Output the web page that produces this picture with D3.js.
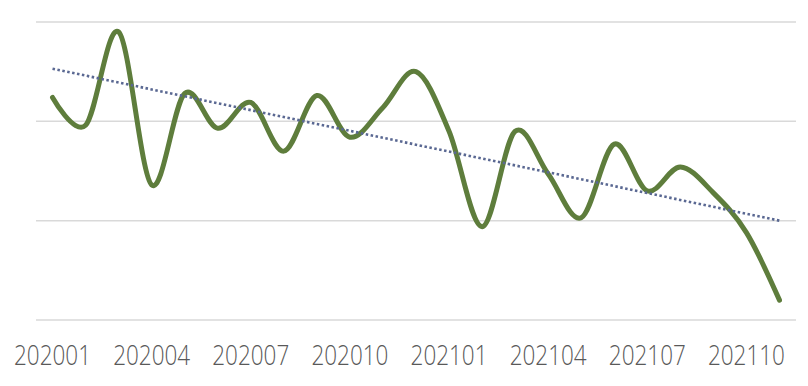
<!DOCTYPE html>
<html>
<head>
<meta charset="utf-8">
<script src="https://cdn.jsdelivr.net/npm/d3@7"></script>
<style>
  html, body { margin: 0; padding: 0; background: #fff; }
  svg { display: block; }
</style>
</head>
<body>
<svg id="canvas" width="808" height="386"></svg>
<script>
// data
const months = ['202001','202002','202003','202004','202005','202006','202007','202008',
  '202009','202010','202011','202012','202101','202102','202103','202104','202105',
  '202106','202107','202108','202109','202110','202111'];
const values = [22.4, 19.6, 29.0, 13.6, 22.8, 19.3, 21.9, 17.0, 22.6, 18.4, 21.4, 25.0,
  19.0, 9.4, 19.0, 14.7, 10.3, 17.7, 13.0, 15.4, 12.8, 8.8, 2.0];
const trendValues = [25.3, 10.0];   // linear trendline, first & last month
const tickLabels = ['202001','202004','202007','202010','202101','202104','202107','202110'];
const gridValues = [0, 10, 20, 30];

// layout
const margin = { top: 22, right: 12, bottom: 66, left: 36 };
const width = 808 - margin.left - margin.right;
const height = 386 - margin.top - margin.bottom;

const svg = d3.select('#canvas')
  .append('g')
    .attr('transform', `translate(${margin.left},${margin.top})`);

// scales
const xScale = d3.scaleBand().domain(months).range([0, width]);
const yScale = d3.scaleLinear().domain([0, 30]).range([height, 0]);
const cx = m => xScale(m) + xScale.bandwidth() / 2;

// gridlines
svg.selectAll('.grid')
  .data(gridValues)
  .join('line')
    .attr('class', 'grid')
    .attr('x1', 0)
    .attr('x2', width)
    .attr('y1', d => yScale(d))
    .attr('y2', d => yScale(d))
    .attr('stroke', '#d9d9d9')
    .attr('stroke-width', 1.5);

// x axis labels
const xAxis = d3.axisBottom(xScale).tickValues(tickLabels).tickSize(0).tickPadding(0);
const gx = svg.append('g')
  .attr('transform', `translate(0,${height})`)
  .call(xAxis);
gx.select('.domain').remove();
gx.selectAll('text')
  .attr('y', 45)
  .attr('dy', 0)
  .attr('fill', '#595959')
  .style('font-family', '"Open Sans", sans-serif')
  .style('font-weight', 300)
  .style('font-size', '28px')
  .attr('textLength', 77)
  .attr('lengthAdjust', 'spacingAndGlyphs');

// main smoothed line
const line = d3.line()
  .x((d, i) => cx(months[i]))
  .y(d => yScale(d))
  .curve(d3.curveCardinal.tension(0));

svg.append('path')
  .datum(values)
  .attr('d', line)
  .attr('fill', 'none')
  .attr('stroke', '#5e7d3c')
  .attr('stroke-width', 5)
  .attr('stroke-linecap', 'round')
  .attr('stroke-linejoin', 'round');

// dotted trendline
const trendX = [months[0], months[months.length - 1]];
svg.append('path')
  .datum(trendValues)
  .attr('d', d3.line().x((d, i) => cx(trendX[i])).y(d => yScale(d)))
  .attr('fill', 'none')
  .attr('stroke', '#5a6892')
  .attr('stroke-width', 2.6)
  .attr('stroke-dasharray', '2.5 2.5');
</script>
</body>
</html>
